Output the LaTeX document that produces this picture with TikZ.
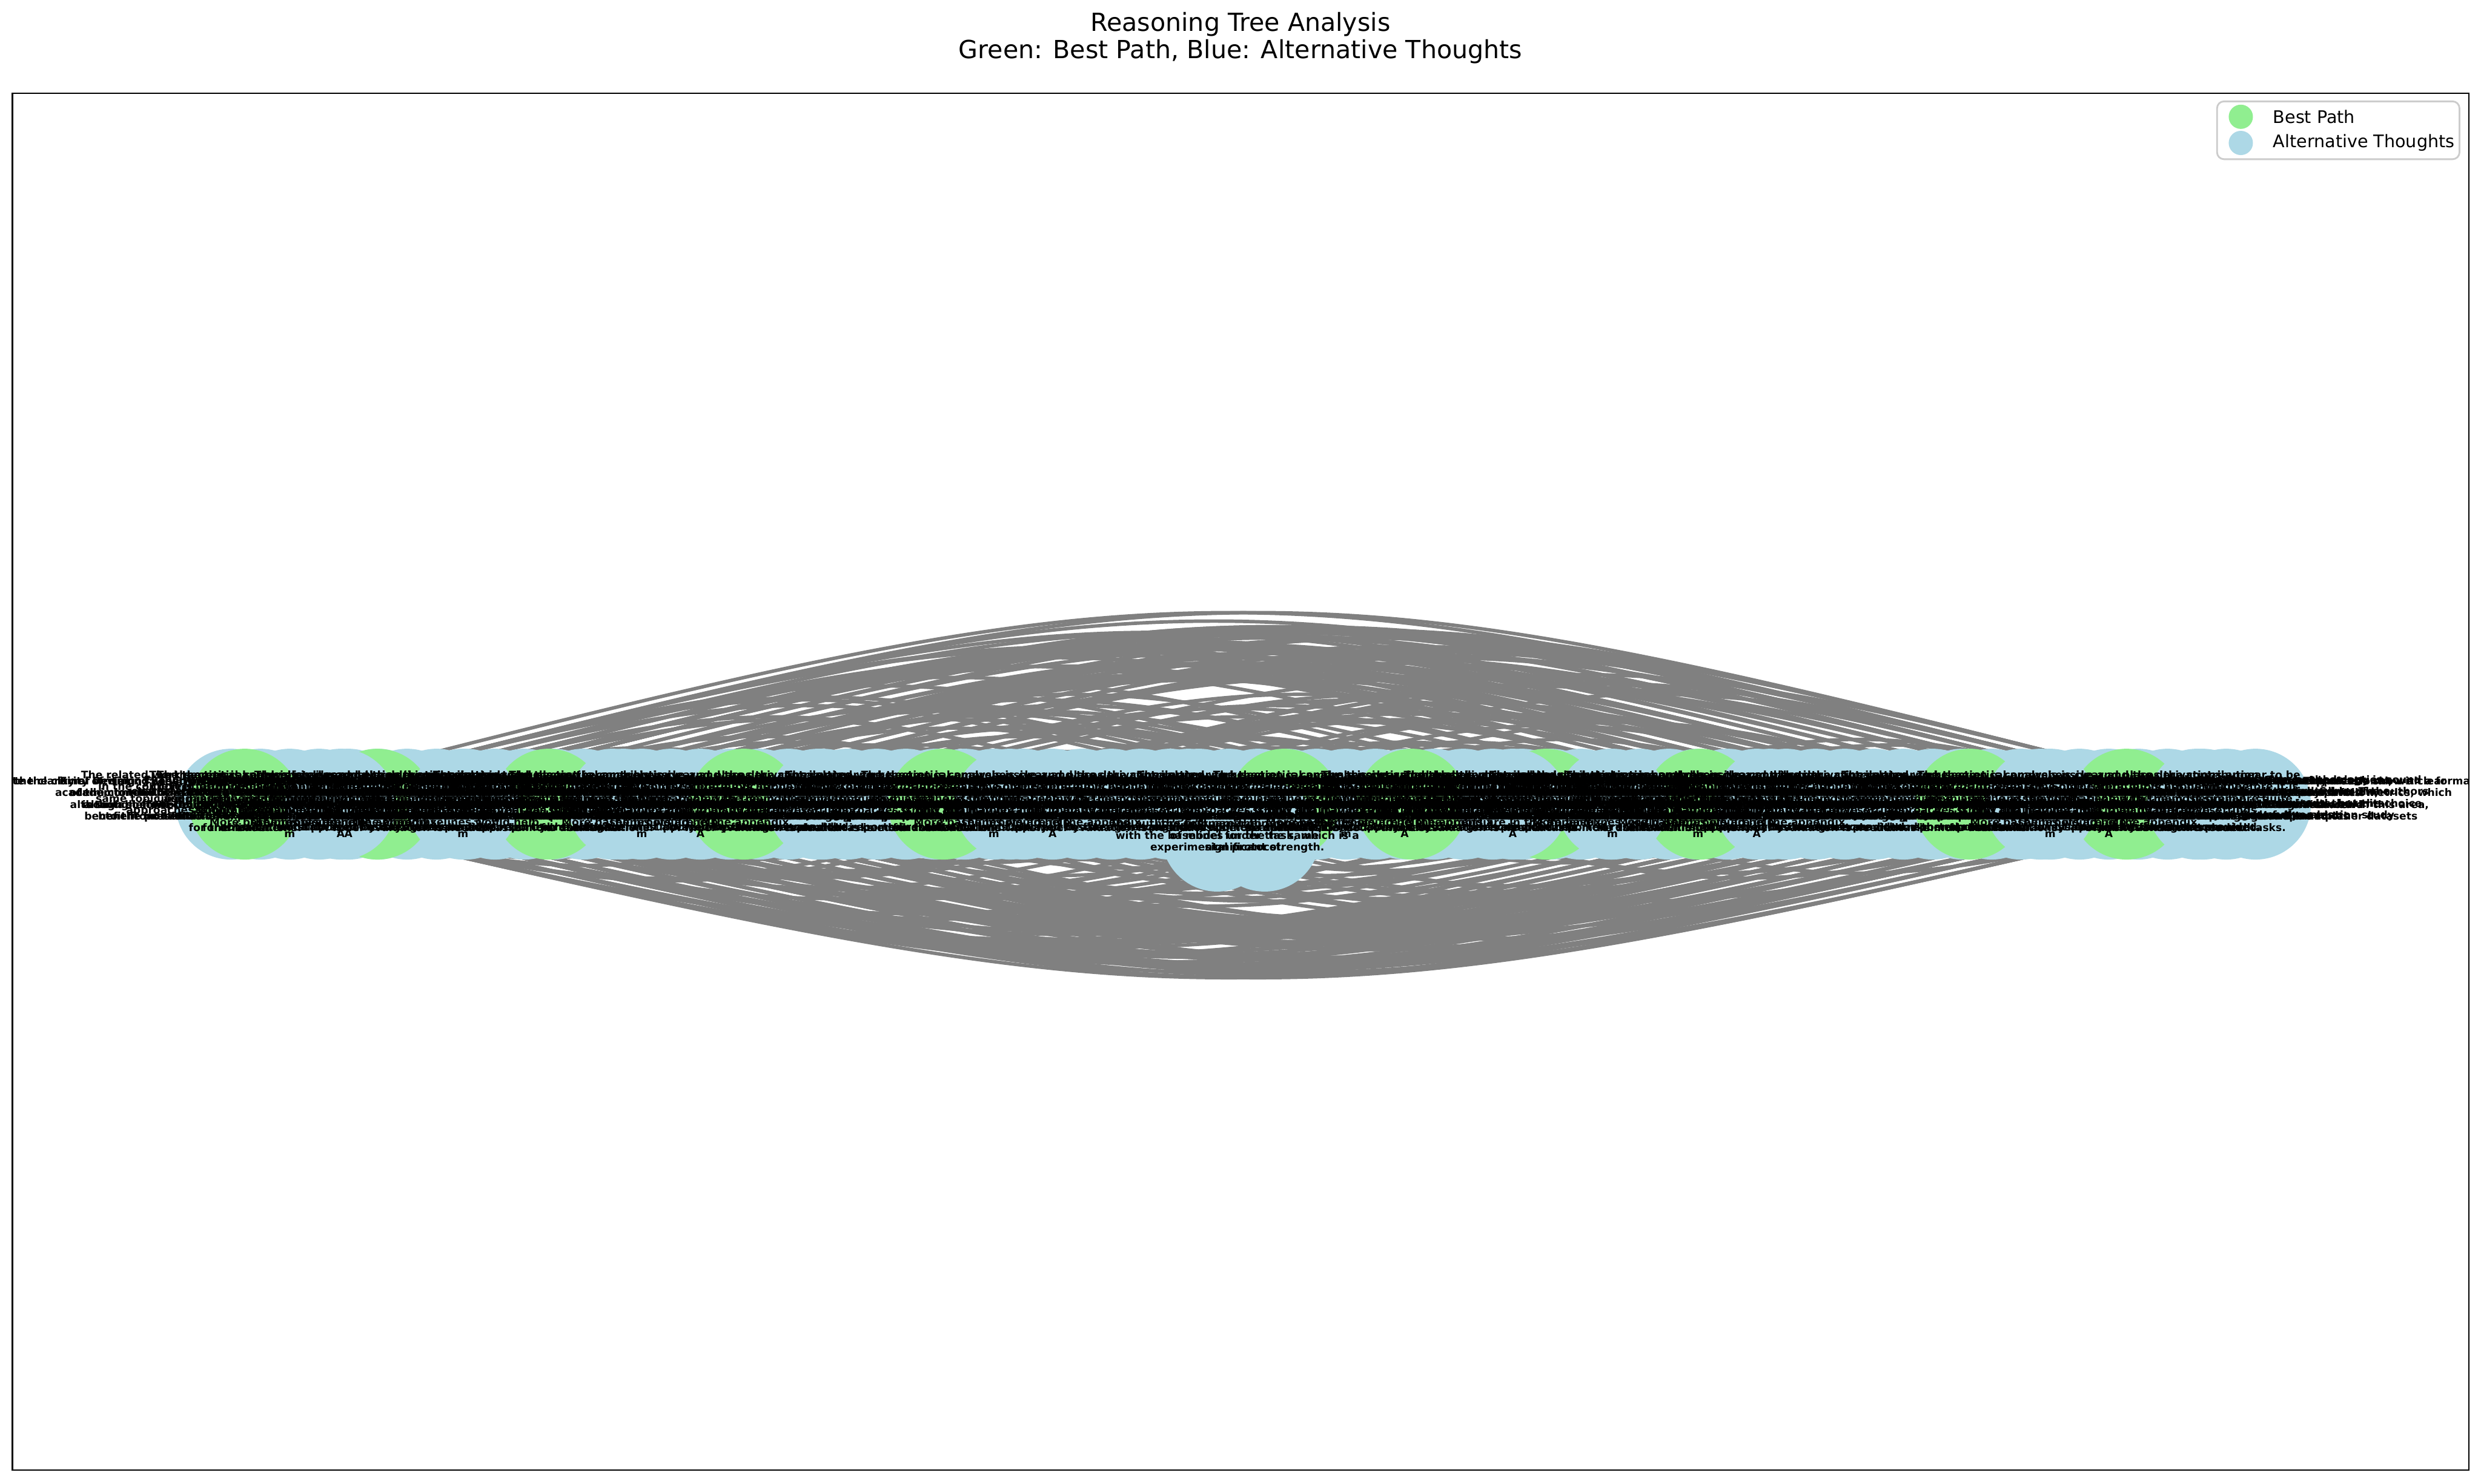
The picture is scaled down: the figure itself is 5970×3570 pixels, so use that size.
\documentclass[tikz,border=0pt]{standalone}
\usepackage{fontspec}
\setmainfont{DejaVu Sans}
\usetikzlibrary{calc}
\definecolor{bestgreen}{HTML}{90EE90}
\definecolor{altblue}{HTML}{ADD8E6}
\definecolor{edgegray}{HTML}{808080}
\definecolor{legendgray}{HTML}{CCCCCC}
\pgfdeclarelayer{edgelayer}
\pgfdeclarelayer{textlayer}
\pgfsetlayers{edgelayer,main,textlayer}
\newcommand\rtA{Evaluate the clarity of writing: The writing is generally clear and professional, with a formal\\ academic tone. The structure of the paper is easy to follow,\\ although some technical sections are dense and would\\ benefit from additional explanation and examples\\ for the reader.}
\newcommand\rtB{Overall assessment of the paper: The paper makes a strong case\\ for the use of the proposed method and presents a well-motivated\\ architecture. However, the experimental evaluation is limited\\ in scope and several of the central claims are not fully\\ supported by the evidence.}
\newcommand\rtC{Evaluate the coherence and internal consistency of the paper.\\ The sections and the overall structure of the paper are\\ logically organized, and the arguments are generally consistent,\\ with only minor discrepancies between the introduction\\ and the reported results.}
\newcommand\rtD{Evaluate the quality of writing: The quality of the writing is\\ characterized by flamboyant phrasing in places, which distracts\\ from the content. The classification scheme is readable, but\\ several terms are used before they are defined, and the\\ notation is not always consistent.}
\newcommand\rtE{Methodology and Experimental Design: The methodology is sound\\ and the experiments are independent and reproducible. The authors\\ use standard benchmarks to generate their results, but the choice\\ of hyperparameters is not justified and no ablation study\\ is provided.}
\newcommand\rtF{Final Decision: Based on the overall quality of the work, the novelty\\ of the contribution and the clarity of the presentation, the paper\\ is suitable for publication after minor revisions, in particular\\ to the presentation of the graphs and the discussion\\ of limitations.}
\newcommand\rtG{Evaluate the validity of the claims: The main claims are supported\\ by the experimental results, but the use of a single dataset limits\\ the generality of the findings, and the statistical significance\\ of the improvements over the baselines is not reported.\\ A wider evaluation is needed.}
\newcommand\rtH{Evaluate the novelty of the contribution: The proposed architecture\\ combines existing components in a new way. The idea is interesting\\ and the authors generate new insights into the problem, but the\\ differences to closely related prior work should be discussed\\ in more detail.}
\newcommand\rtI{The theoretical analysis is clear and the derivations appear to be\\ correct, although some of the notation is not defined before it is\\ used, and the assumptions behind the main theorem are quite\\ strong and may not hold in many practical settings.\\ The proofs are in the appendix.\\ A}
\newcommand\rtJ{Evaluate the significance of the results: The results show a clear\\ improvement over the baselines on all the reported metrics, which\\ could have a strong impact on future research in this area,\\ provided that the findings generalize to other datasets\\ and tasks.}
\newcommand\rtK{The related work section is comprehensive and places the contribution\\ in the context of prior research. Some recent publications on the\\ same topic are missing, and the comparison with the most similar\\ approaches is only qualitative rather than quantitative.\\ More baselines would help.\\ m}
\newcommand\rtL{The figures and tables are clear and informative, but the captions\\ could be more detailed to make them self-contained. Some of the\\ graphs use a small font size and are hard to read, and the units\\ of several quantities are missing from the axes.\\ generate}
\newcommand\rtpick[1]{\ifcase#1 \rtA\or\rtB\or\rtC\or\rtD\or\rtE\or\rtF\or\rtG\or\rtH\or\rtI\or\rtJ\or\rtK\or\rtL\fi}
\begin{document}
\begin{tikzpicture}[x=0.24pt,y=-0.24pt,
  best/.style={circle,fill=bestgreen,minimum size=64pt,inner sep=0pt},
  alt/.style={circle,fill=altblue,minimum size=64pt,inner sep=0pt},
  edge/.style={draw=edgegray,line width=2pt},
  lbl/.style={font=\bfseries\fontsize{6}{6.8}\selectfont,align=center,inner sep=0pt},
  titletext/.style={font=\fontsize{14.4}{17}\selectfont,anchor=base,inner sep=0pt},
  legtext/.style={font=\fontsize{10}{12}\selectfont,anchor=west,inner sep=0pt},
  legmark/.style={circle,minimum size=14pt,inner sep=0pt}]
\useasboundingbox (0,0) rectangle (5970,3570);
\begin{pgfonlayer}{edgelayer}
\fill[white] (0,0) rectangle (5970,3570);
\end{pgfonlayer}
% title
\node[titletext] (title1) at (2985,75) {Reasoning Tree Analysis};
\node[titletext] (title2) at (2985,140) {Green: Best Path, Blue: Alternative Thoughts};
% base alternative-thought nodes along the band
\foreach \k in {0,...,69}{
  \pgfmathsetmacro\xx{556+\k*70.6}
  \node[alt] (b\k) at (\xx,1935) {};
}
% best path nodes
\foreach \i/\x in {1/589, 2/908, 3/1320, 4/1790, 5/2270, 6/3090, 7/3397, 8/3720, 9/4090, 10/4740, 11/5117}
  {\node[best] (g\i) at (\x,1935) {};}
% alternative thoughts drawn over the best path
\foreach \i/\x/\y in {1/820/1935, 2/1114/1935, 3/1500/1935, 4/1980/1935, 5/2430/1935, 6/2860/1935,
  7/3640/1935, 8/3880/1935, 9/4260/1935, 10/4910/1935, 11/5300/1935, 12/2929/2012, 13/3043/2012}
  {\node[alt] (c\i) at (\x,\y) {};}
% edges
\begin{pgfonlayer}{edgelayer}
\pgfmathsetseed{4711}
\foreach \k in {1,...,330}{
  \pgfmathrandominteger{\ea}{0}{69}
  \pgfmathrandominteger{\eb}{0}{69}
  \ifnum\ea=\eb\else
    \draw[edge] let \p1=(b\ea.center), \p2=(b\eb.center) in
      (b\ea.center) .. controls ({(\x1+\x2)/2},{(\y1+\y2)/2+0.122*(\x2-\x1)+0.006*abs(\x2-\x1)}) .. (b\eb.center);
  \fi
}
\foreach \k in {1,...,110}{
  \pgfmathrandominteger{\ea}{0}{15}
  \pgfmathrandominteger{\eb}{54}{69}
  \pgfmathrandominteger{\dd}{0}{1}
  \ifnum\dd=0
    \draw[edge] let \p1=(b\ea.center), \p2=(b\eb.center) in
      (b\ea.center) .. controls ({(\x1+\x2)/2},{(\y1+\y2)/2+0.122*(\x2-\x1)+0.006*abs(\x2-\x1)}) .. (b\eb.center);
  \else
    \draw[edge] let \p1=(b\eb.center), \p2=(b\ea.center) in
      (b\eb.center) .. controls ({(\x1+\x2)/2},{(\y1+\y2)/2+0.122*(\x2-\x1)+0.006*abs(\x2-\x1)}) .. (b\ea.center);
  \fi
}
\end{pgfonlayer}
% labels
\begin{pgfonlayer}{textlayer}
\begin{scope}
\clip (30,224) rectangle (5941,3537);
\foreach \k in {0,...,69}{
  \pgfmathtruncatemacro\pp{mod(\k*5,12)}
  \node[lbl] (lb\k) at (b\k) {\rtpick{\pp}};
}
\node[lbl] (lg1) at (g1) {\rtA};
\node[lbl] (lg2) at (g2) {\rtD};
\node[lbl] (lg3) at (g3) {\rtB};
\node[lbl] (lg4) at (g4) {\rtE};
\node[lbl] (lg5) at (g5) {\rtH};
\node[lbl] (lg6) at (g6) {\rtG};
\node[lbl] (lg7) at (g7) {\rtJ};
\node[lbl] (lg8) at (g8) {\rtE};
\node[lbl] (lg9) at (g9) {\rtF};
\node[lbl] (lg10) at (g10) {\rtC};
\node[lbl] (lg11) at (g11) {\rtF};
\node[lbl] (lc1) at (c1) {\rtI};
\node[lbl] (lc2) at (c2) {\rtK};
\node[lbl] (lc3) at (c3) {\rtL};
\node[lbl] (lc4) at (c4) {\rtG};
\node[lbl] (lc5) at (c5) {\rtJ};
\node[lbl] (lc6) at (c6) {\rtL};
\node[lbl] (lc7) at (c7) {\rtI};
\node[lbl] (lc8) at (c8) {\rtK};
\node[lbl] (lc9) at (c9) {\rtB};
\node[lbl] (lc10) at (c10) {\rtD};
\node[lbl] (lc11) at (c11) {\rtA};
\node[lbl] (lc12) at (c12) {The authors compare their approach\\ with the baselines under the same\\ experimental protocol.};
\node[lbl] (lc13) at (c13) {the first paper to propose this type\\ of model for the task, which is a\\ significant strength.};
\end{scope}
% frame
\draw[line width=0.8pt] (30,224) rectangle (5941,3537);
% legend
\node[draw=legendgray,fill=white,line width=1pt,rounded corners=4pt,minimum width=140pt,minimum height=33.4pt,inner sep=0pt] (legend) at (5626.5,313.5) {};
\node[legmark,fill=bestgreen] (legbest) at (5392,281) {};
\node[legmark,fill=altblue] (legalt) at (5392,344) {};
\node[legtext] (legbesttxt) at (5469,281) {Best Path};
\node[legtext] (legalttxt) at (5469,344) {Alternative Thoughts};
\end{pgfonlayer}
\end{tikzpicture}
\end{document}
